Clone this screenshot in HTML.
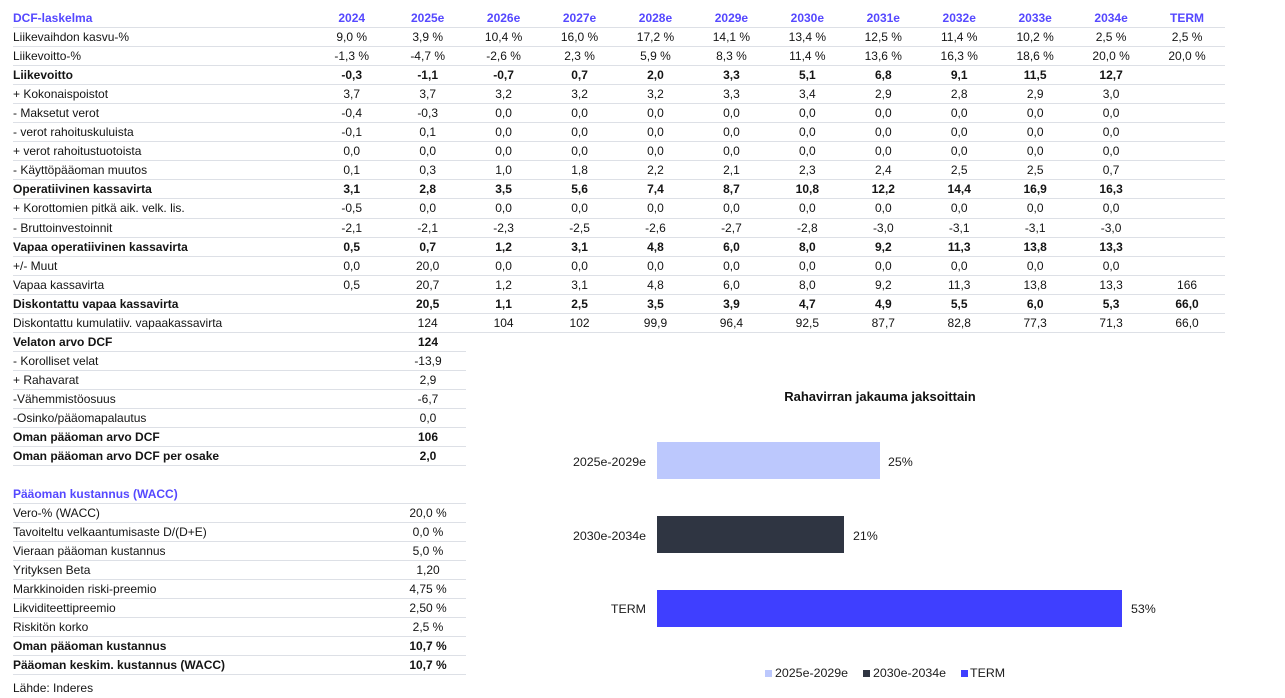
<!DOCTYPE html>
<html><head><meta charset="utf-8">
<style>
*{margin:0;padding:0;box-sizing:border-box}
html,body{width:1285px;height:698px;background:#fff;overflow:hidden}
body{position:relative;font-family:"Liberation Sans",Arial,sans-serif;font-size:12px;color:#141414}
.tbl{position:absolute;left:13px;top:9px;width:1212px}
.r{height:19.06px;display:flex;align-items:center;border-bottom:1px solid #dde0e6;white-space:nowrap}
.r.s{width:453px}
.r .l{width:301px}
.r .v{width:76px;text-align:center}
.b{font-weight:bold}
.h{color:#5548ff;font-weight:bold}
.w{position:absolute;left:13px;top:485px;width:453px}
.w .r .v{width:76px}
.src{position:absolute;left:13px;top:679px;height:19px;line-height:19px}
.ct{position:absolute;font-size:12.4px;color:#1b1b1b;white-space:nowrap}
.bar{position:absolute}
.lg{position:absolute;top:670px;width:7px;height:7px}
</style></head><body>
<div class="tbl">
<div class="r h"><div class="l">DCF-laskelma</div><div class="v">2024</div><div class="v">2025e</div><div class="v">2026e</div><div class="v">2027e</div><div class="v">2028e</div><div class="v">2029e</div><div class="v">2030e</div><div class="v">2031e</div><div class="v">2032e</div><div class="v">2033e</div><div class="v">2034e</div><div class="v">TERM</div></div>
<div class="r"><div class="l">Liikevaihdon kasvu-%</div><div class="v">9,0 %</div><div class="v">3,9 %</div><div class="v">10,4 %</div><div class="v">16,0 %</div><div class="v">17,2 %</div><div class="v">14,1 %</div><div class="v">13,4 %</div><div class="v">12,5 %</div><div class="v">11,4 %</div><div class="v">10,2 %</div><div class="v">2,5 %</div><div class="v">2,5 %</div></div>
<div class="r"><div class="l">Liikevoitto-%</div><div class="v">-1,3 %</div><div class="v">-4,7 %</div><div class="v">-2,6 %</div><div class="v">2,3 %</div><div class="v">5,9 %</div><div class="v">8,3 %</div><div class="v">11,4 %</div><div class="v">13,6 %</div><div class="v">16,3 %</div><div class="v">18,6 %</div><div class="v">20,0 %</div><div class="v">20,0 %</div></div>
<div class="r b"><div class="l">Liikevoitto</div><div class="v">-0,3</div><div class="v">-1,1</div><div class="v">-0,7</div><div class="v">0,7</div><div class="v">2,0</div><div class="v">3,3</div><div class="v">5,1</div><div class="v">6,8</div><div class="v">9,1</div><div class="v">11,5</div><div class="v">12,7</div><div class="v"></div></div>
<div class="r"><div class="l">+ Kokonaispoistot</div><div class="v">3,7</div><div class="v">3,7</div><div class="v">3,2</div><div class="v">3,2</div><div class="v">3,2</div><div class="v">3,3</div><div class="v">3,4</div><div class="v">2,9</div><div class="v">2,8</div><div class="v">2,9</div><div class="v">3,0</div><div class="v"></div></div>
<div class="r"><div class="l">- Maksetut verot</div><div class="v">-0,4</div><div class="v">-0,3</div><div class="v">0,0</div><div class="v">0,0</div><div class="v">0,0</div><div class="v">0,0</div><div class="v">0,0</div><div class="v">0,0</div><div class="v">0,0</div><div class="v">0,0</div><div class="v">0,0</div><div class="v"></div></div>
<div class="r"><div class="l">- verot rahoituskuluista</div><div class="v">-0,1</div><div class="v">0,1</div><div class="v">0,0</div><div class="v">0,0</div><div class="v">0,0</div><div class="v">0,0</div><div class="v">0,0</div><div class="v">0,0</div><div class="v">0,0</div><div class="v">0,0</div><div class="v">0,0</div><div class="v"></div></div>
<div class="r"><div class="l">+ verot rahoitustuotoista</div><div class="v">0,0</div><div class="v">0,0</div><div class="v">0,0</div><div class="v">0,0</div><div class="v">0,0</div><div class="v">0,0</div><div class="v">0,0</div><div class="v">0,0</div><div class="v">0,0</div><div class="v">0,0</div><div class="v">0,0</div><div class="v"></div></div>
<div class="r"><div class="l">- Käyttöpääoman muutos</div><div class="v">0,1</div><div class="v">0,3</div><div class="v">1,0</div><div class="v">1,8</div><div class="v">2,2</div><div class="v">2,1</div><div class="v">2,3</div><div class="v">2,4</div><div class="v">2,5</div><div class="v">2,5</div><div class="v">0,7</div><div class="v"></div></div>
<div class="r b"><div class="l">Operatiivinen kassavirta</div><div class="v">3,1</div><div class="v">2,8</div><div class="v">3,5</div><div class="v">5,6</div><div class="v">7,4</div><div class="v">8,7</div><div class="v">10,8</div><div class="v">12,2</div><div class="v">14,4</div><div class="v">16,9</div><div class="v">16,3</div><div class="v"></div></div>
<div class="r"><div class="l">+ Korottomien pitkä aik. velk. lis.</div><div class="v">-0,5</div><div class="v">0,0</div><div class="v">0,0</div><div class="v">0,0</div><div class="v">0,0</div><div class="v">0,0</div><div class="v">0,0</div><div class="v">0,0</div><div class="v">0,0</div><div class="v">0,0</div><div class="v">0,0</div><div class="v"></div></div>
<div class="r"><div class="l">- Bruttoinvestoinnit</div><div class="v">-2,1</div><div class="v">-2,1</div><div class="v">-2,3</div><div class="v">-2,5</div><div class="v">-2,6</div><div class="v">-2,7</div><div class="v">-2,8</div><div class="v">-3,0</div><div class="v">-3,1</div><div class="v">-3,1</div><div class="v">-3,0</div><div class="v"></div></div>
<div class="r b"><div class="l">Vapaa operatiivinen kassavirta</div><div class="v">0,5</div><div class="v">0,7</div><div class="v">1,2</div><div class="v">3,1</div><div class="v">4,8</div><div class="v">6,0</div><div class="v">8,0</div><div class="v">9,2</div><div class="v">11,3</div><div class="v">13,8</div><div class="v">13,3</div><div class="v"></div></div>
<div class="r"><div class="l">+/- Muut</div><div class="v">0,0</div><div class="v">20,0</div><div class="v">0,0</div><div class="v">0,0</div><div class="v">0,0</div><div class="v">0,0</div><div class="v">0,0</div><div class="v">0,0</div><div class="v">0,0</div><div class="v">0,0</div><div class="v">0,0</div><div class="v"></div></div>
<div class="r"><div class="l">Vapaa kassavirta</div><div class="v">0,5</div><div class="v">20,7</div><div class="v">1,2</div><div class="v">3,1</div><div class="v">4,8</div><div class="v">6,0</div><div class="v">8,0</div><div class="v">9,2</div><div class="v">11,3</div><div class="v">13,8</div><div class="v">13,3</div><div class="v">166</div></div>
<div class="r b"><div class="l">Diskontattu vapaa kassavirta</div><div class="v"></div><div class="v">20,5</div><div class="v">1,1</div><div class="v">2,5</div><div class="v">3,5</div><div class="v">3,9</div><div class="v">4,7</div><div class="v">4,9</div><div class="v">5,5</div><div class="v">6,0</div><div class="v">5,3</div><div class="v">66,0</div></div>
<div class="r"><div class="l">Diskontattu kumulatiiv. vapaakassavirta</div><div class="v"></div><div class="v">124</div><div class="v">104</div><div class="v">102</div><div class="v">99,9</div><div class="v">96,4</div><div class="v">92,5</div><div class="v">87,7</div><div class="v">82,8</div><div class="v">77,3</div><div class="v">71,3</div><div class="v">66,0</div></div>
<div class="r s b"><div class="l">Velaton arvo DCF</div><div class="v"></div><div class="v">124</div></div>
<div class="r s"><div class="l">- Korolliset velat</div><div class="v"></div><div class="v">-13,9</div></div>
<div class="r s"><div class="l">+ Rahavarat</div><div class="v"></div><div class="v">2,9</div></div>
<div class="r s"><div class="l">-Vähemmistöosuus</div><div class="v"></div><div class="v">-6,7</div></div>
<div class="r s"><div class="l">-Osinko/pääomapalautus</div><div class="v"></div><div class="v">0,0</div></div>
<div class="r s b"><div class="l">Oman pääoman arvo DCF</div><div class="v"></div><div class="v">106</div></div>
<div class="r s b"><div class="l">Oman pääoman arvo DCF per osake</div><div class="v"></div><div class="v">2,0</div></div>
</div>

<div class="w">
<div class="r s h"><div class="l">Pääoman kustannus (WACC)</div></div>
<div class="r s"><div class="l">Vero-% (WACC)</div><div class="v"></div><div class="v">20,0 %</div></div>
<div class="r s"><div class="l">Tavoiteltu velkaantumisaste D/(D+E)</div><div class="v"></div><div class="v">0,0 %</div></div>
<div class="r s"><div class="l">Vieraan pääoman kustannus</div><div class="v"></div><div class="v">5,0 %</div></div>
<div class="r s"><div class="l">Yrityksen Beta</div><div class="v"></div><div class="v">1,20</div></div>
<div class="r s"><div class="l">Markkinoiden riski-preemio</div><div class="v"></div><div class="v">4,75 %</div></div>
<div class="r s"><div class="l">Likviditeettipreemio</div><div class="v"></div><div class="v">2,50 %</div></div>
<div class="r s"><div class="l">Riskitön korko</div><div class="v"></div><div class="v">2,5 %</div></div>
<div class="r s b"><div class="l">Oman pääoman kustannus</div><div class="v"></div><div class="v">10,7 %</div></div>
<div class="r s b"><div class="l">Pääoman keskim. kustannus (WACC)</div><div class="v"></div><div class="v">10,7 %</div></div>
</div>
<div class="src">Lähde: Inderes</div>

<!-- chart -->
<div class="ct" style="left:700px;width:360px;text-align:center;top:389px;font-size:13px;font-weight:bold;color:#111">Rahavirran jakauma jaksoittain</div>

<div class="ct" style="left:500px;width:146px;text-align:right;top:455px">2025e-2029e</div>
<div class="bar" style="left:657px;top:442px;width:223px;height:37px;background:#bcc8fd"></div>
<div class="ct" style="left:888px;top:455px">25%</div>

<div class="ct" style="left:500px;width:146px;text-align:right;top:529px">2030e-2034e</div>
<div class="bar" style="left:657px;top:516px;width:187px;height:37px;background:#2f3542"></div>
<div class="ct" style="left:853px;top:529px">21%</div>

<div class="ct" style="left:500px;width:146px;text-align:right;top:602px">TERM</div>
<div class="bar" style="left:657px;top:590px;width:465px;height:37px;background:#3f3fff"></div>
<div class="ct" style="left:1131px;top:602px">53%</div>

<div class="lg" style="left:765px;background:#bcc8fd"></div>
<div class="ct" style="left:775px;top:666px">2025e-2029e</div>
<div class="lg" style="left:863px;background:#2f3542"></div>
<div class="ct" style="left:873px;top:666px">2030e-2034e</div>
<div class="lg" style="left:961px;background:#3f3fff"></div>
<div class="ct" style="left:970px;top:666px">TERM</div>
</body></html>
